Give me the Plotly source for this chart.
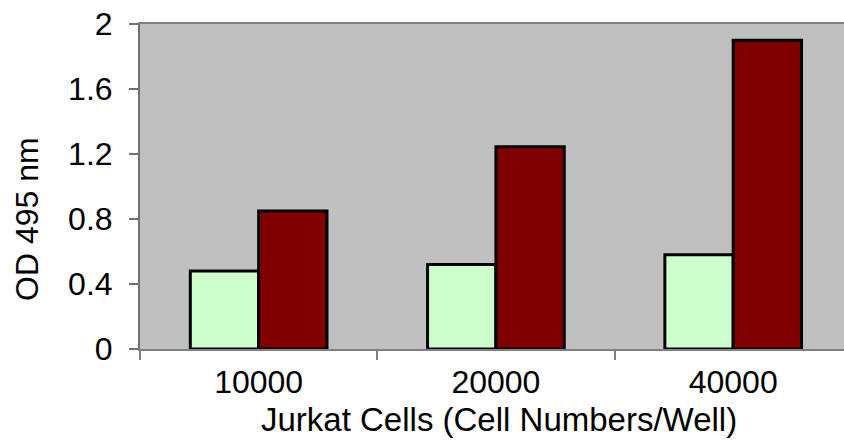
import plotly.graph_objects as go

categories = ["10000", "20000", "40000"]
series_a = [0.48, 0.52, 0.58]
series_b = [0.85, 1.245, 1.90]
y_ticks = [0, 0.4, 0.8, 1.2, 1.6, 2]
y_tick_labels = ["0", "0.4", "0.8", "1.2", "1.6", "2"]

FONT = "Liberation Sans, Arial, sans-serif"
FS = 32

fig = go.Figure()
fig.add_trace(go.Bar(x=categories, y=series_a, name="Control",
                     marker=dict(color="#CCFFCC", line=dict(color="black", width=3))))
fig.add_trace(go.Bar(x=categories, y=series_b, name="Sample",
                     marker=dict(color="#800000", line=dict(color="black", width=3))))

fig.update_layout(
    width=844, height=444,
    margin=dict(l=140, r=0, t=24, b=95, autoexpand=False),
    paper_bgcolor="white", plot_bgcolor="#C0C0C0",
    barmode="group", bargap=0.424, bargroupgap=0,
    showlegend=False,
    font=dict(family=FONT, size=FS, color="black"),
    xaxis=dict(
        type="category", range=[-0.5, 2.467], automargin=False,
        showgrid=False, showline=True, linecolor="#808080", linewidth=2,
        mirror=True, ticks="outside", tickson="boundaries", ticklen=9,
        tickcolor="#808080", tickwidth=2,
        ticklabelstandoff=4,
        tickfont=dict(family=FONT, size=FS),
    ),
    yaxis=dict(
        range=[0, 2], tickvals=y_ticks, ticktext=y_tick_labels, automargin=False,
        showgrid=False, zeroline=False, showline=True, linecolor="#707070", linewidth=2,
        ticks="outside", ticklen=9, tickcolor="#707070", tickwidth=2,
        ticklabelstandoff=10, ticklabeloverflow="allow",
        tickfont=dict(family=FONT, size=FS),
    ),
    annotations=[
        dict(
            text="OD 495 nm", textangle=-90, showarrow=False,
            xref="paper", yref="paper", x=-0.1605, y=0.40,
            xanchor="center", yanchor="middle",
            font=dict(family=FONT, size=FS, color="black"),
        ),
        dict(
            text="Jurkat Cells (Cell Numbers/Well)", showarrow=False,
            xref="paper", yref="paper", x=0.51, y=-0.217,
            xanchor="center", yanchor="middle",
            font=dict(family=FONT, size=33, color="black"),
        ),
    ],
)

fig.write_html(
    "out.html",
    config={"displayModeBar": False},
    post_script="document.body.style.margin='0';document.body.style.overflow='hidden';",
)
